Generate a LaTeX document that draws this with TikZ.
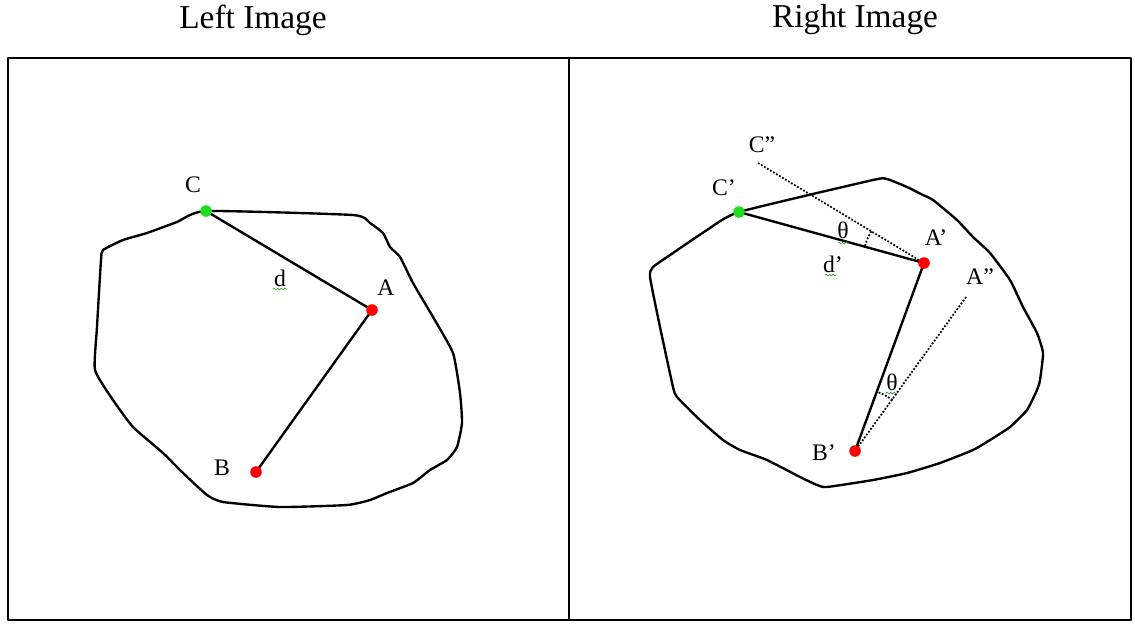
\documentclass[tikz,border=0pt]{standalone}
\usepackage{fontspec}
\setmainfont{Liberation Serif}
\usepackage{tikz}
\usetikzlibrary{decorations.pathmorphing}

\definecolor{ptgreen}{RGB}{30,220,30}
\definecolor{squiggle}{RGB}{60,160,60}
\tikzset{
  outline/.style={line width=1.35pt,line join=round},
  dotline/.style={line width=1pt,dash pattern=on 1pt off 1pt},
  lbl/.style={font=\fontsize{13.5}{16}\selectfont,inner sep=0pt},
  title/.style={font=\fontsize{19}{23}\selectfont,inner sep=0pt},
  wavy/.style={squiggle,line width=0.4pt,decorate,decoration={snake,amplitude=0.5pt,segment length=2pt}}
}

\begin{document}
\begin{tikzpicture}[x=0.02cm,y=-0.02cm]
	\useasboundingbox (0,0) rectangle (1135,623);
	% frames and titles
	\draw[outline] (8,58) rectangle (1131,620);
	\draw[outline] (569,58) -- (569,620);
	\node[title] (tleft) at (253,20) {Left Image};
	\node[title] (tright) at (855,20) {Right Image};

	% left image
	\coordinate (C) at (206,211);
	\coordinate (A) at (372,310);
	\coordinate (B) at (256,472);
	\draw[outline] plot[smooth cycle,tension=0.3] coordinates {
		(C) (177,222) (147,233) (123,240) (103,250) (101,260) (97,327) (95,370)
		(113,400) (133,427) (163,453) (183,473) (207,495) (223,502) (280,507)
		(347,505) (370,500) (387,493) (413,483) (430,470) (447,460) (457,447)
		(462,423) (460,393) (453,353) (433,317) (413,283) (400,257) (390,247)
		(383,233) (370,223) (353,215)};
	\draw[outline] (C) -- (A) -- (B);
	\fill[ptgreen] (C) circle (3.3pt);
	\fill[red] (A) circle (3.3pt);
	\fill[red] (B) circle (3.3pt);
	\node[lbl] (labC) at (193,185) {C};
	\node[lbl] (labA) at (386,288) {A};
	\node[lbl] (labB) at (222,468) {B};
	\node[lbl] (labd) at (280,278) {d};
	\draw[wavy] (273,289) -- (287,289);

	% right image
	\coordinate (Cp) at (739,212);
	\coordinate (Ap) at (924,263);
	\coordinate (Bp) at (855,451);
	\coordinate (Cpp) at (758,163);
	\coordinate (App) at (966,297);
	\draw[outline] plot[smooth cycle,tension=0.3] coordinates {
		(Cp) (873,180) (887,179) (907,187) (923,195) (933,200) (957,220) (973,237)
		(990,253) (1010,280) (1023,307) (1037,333) (1043,353) (1040,380) (1037,390)
		(1027,410) (1010,427) (990,440) (973,450) (940,463) (907,473) (873,480)
		(827,487) (817,485) (800,477) (767,460) (740,450) (723,440) (700,420)
		(677,397) (673,387) (660,327) (650,277) (653,267) (673,253) (707,230)};
	\draw[outline] (Cp) -- (Ap) -- (Bp);
	\draw[dotline] (Cpp) -- (Ap);
	\draw[dotline] (App) -- (Bp);
	\draw[dotline] ([shift={(149:35pt)}]Ap) arc[start angle=149,end angle=164.6,radius=35pt];
	\draw[dotline] ([shift={(53.7:36pt)}]Bp) arc[start angle=53.7,end angle=69.8,radius=36pt];
	\fill[ptgreen] (Cp) circle (3.3pt);
	\fill[red] (Ap) circle (3.3pt);
	\fill[red] (Bp) circle (3.3pt);
	\node[lbl] (labCpp) at (762,145) {C”};
	\node[lbl] (labCp) at (724,188) {C’};
	\node[lbl] (labAp) at (936,238) {A’};
	\node[lbl] (labApp) at (980,277) {A”};
	\node[lbl] (labBp) at (824,453) {B’};
	\node[lbl] (labdp) at (833,264) {d’};
	\node[lbl] (labth1) at (843,230) {θ};
	\node[lbl] (labth2) at (892,382) {θ};
	\draw[wavy] (825,275) -- (837,275);
	\draw[wavy] (838,243) -- (848,243);
	\draw[wavy] (886,393) -- (898,393);
\end{tikzpicture}
\end{document}
